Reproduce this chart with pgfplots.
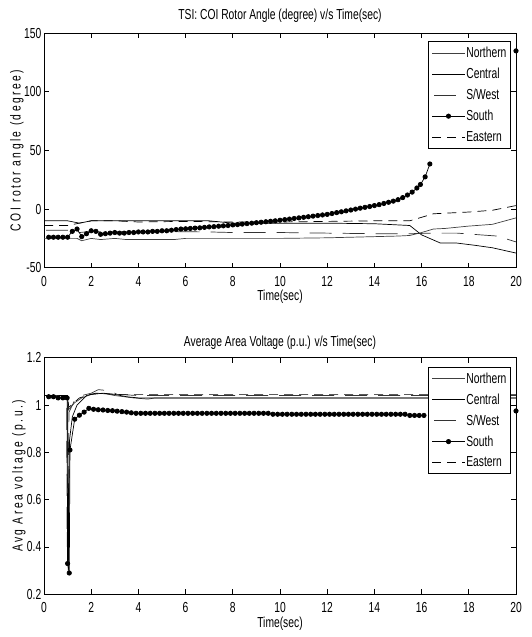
\documentclass[border=0pt]{standalone}
\usepackage{fontspec}
\setmainfont{Liberation Sans}[FakeStretch=0.71]
\usepackage{pgfplots}
\pgfplotsset{compat=1.18}

\newcommand\figfont{\fontsize{14.5bp}{16bp}\selectfont}

\pgfplotsset{
  every axis title shift=0pt,
  matlab/.style={
    scale only axis, width=472bp,
    xmin=0, xmax=20, xtick={0,2,...,20},
    tick align=inside, xtick pos=both, ytick pos=both,
    major tick length=5bp,
    every tick/.style={black, line width=0.8bp},
    axis line style={line width=1bp},
    /pgf/number format/assume math mode=true,
    tick label style={font=\figfont},
    xticklabel style={anchor=base, inner sep=0pt, yshift=-18.5bp},
    yticklabel style={anchor=east, inner sep=0pt, xshift=-2.5bp},
    title style={font=\figfont, anchor=base},
    xlabel style={font=\figfont, anchor=base},
    ylabel style={font=\figfont\addfontfeatures{LetterSpace=17}, anchor=base},
    legend cell align=left,
    legend style={anchor=north east, draw=black, line width=0.8bp, fill=white,
      font=\figfont, row sep=7bp, inner xsep=3bp, inner ysep=4.5bp,
      nodes={inner sep=1bp}},
    legend image code/.code={\draw[mark repeat=2,mark phase=2,#1]
      plot coordinates {(0bp,0bp) (16.5bp,0bp) (33bp,0bp)};},
  },
  nline/.style={black!75, line width=0.7bp},
  cline/.style={black, line width=0.7bp},
  sline/.style={black!80, line width=0.7bp, dash pattern=on 22bp off 11bp, dash phase=31bp},
  souline/.style={black, line width=0.7bp, mark=*, mark size=2.2bp},
  eline/.style={black, line width=0.7bp, dash pattern=on 9bp off 6bp},
}

\begin{document}
\begin{tikzpicture}
\useasboundingbox (0,0) rectangle (532bp,637bp);

\begin{axis}[matlab, height=234.4bp,
  at={(44bp,369.3bp)}, anchor=south west,
  ymin=-50, ymax=150, ytick={-50,0,50,100,150},
  title={TSI: COI Rotor Angle (degree) v/s Time(sec)},
  title style={at={(0.5,1.0597)}},
  xlabel={Time(sec)}, xlabel style={at={(0.5,-0.1408)}},
  ylabel={COI rotor angle (degree)}, ylabel style={at={(-0.0494,0.5)}},
  legend style={at={(0.989,0.966)}},
]
\addplot[nline] coordinates {(0,-25) (1.4,-25) (1.6,-27) (2,-25) (2.4,-26) (3,-25) (3.5,-26) (5.5,-26) (6,-25) (10,-25) (12,-24.5) (14,-23.5) (15,-23) (15.5,-22.5) (16,-20) (16.5,-17) (17,-16.5) (18,-14.5) (19,-13) (20,-7.5)};
\addlegendentry{Northern}
\addplot[cline] coordinates {(0,-10) (1,-10) (1.5,-12) (2,-10) (4,-10) (7,-10) (8,-12) (10,-12) (12,-12) (14,-12.5) (15.5,-14) (16,-22) (16.8,-29) (17.5,-29) (18.3,-31) (19,-33) (20,-37.5)};
\addlegendentry{Central}
\addplot[sline] coordinates {(0,-18) (1,-18) (1.5,-20) (2,-19) (4,-19) (7,-19.5) (8,-20) (10,-20) (12,-20.5) (14,-21) (15.5,-21) (16.5,-20.5) (17.5,-20.5) (18.5,-22) (19.2,-23) (20,-28)};
\addlegendentry{S/West}
\addplot[souline] coordinates {(0.2,-24) (0.4,-24) (0.6,-24) (0.8,-24) (1.0,-24) (1.2,-19) (1.4,-17) (1.6,-23.5) (1.8,-21) (2.0,-18.5) (2.2,-19) (2.4,-21.5) (2.6,-21) (2.8,-20.5) (3.0,-20) (3.2,-20.5) (3.4,-20.5) (3.6,-20) (3.8,-20) (4.0,-19.5) (4.2,-19.5) (4.4,-19.5) (4.6,-19) (4.8,-19) (5.0,-18.5) (5.2,-18.5) (5.4,-18) (5.6,-17.5) (5.8,-17) (6.0,-16.8) (6.2,-16.5) (6.4,-16.2) (6.6,-16) (6.8,-15.6) (7.0,-15.2) (7.2,-15) (7.4,-14.6) (7.6,-14.3) (7.8,-14) (8.0,-13.5) (8.2,-13.2) (8.4,-12.8) (8.6,-12.4) (8.8,-12) (9.0,-11.6) (9.2,-11.2) (9.4,-10.8) (9.6,-10.4) (9.8,-10) (10.0,-9.5) (10.2,-9) (10.4,-8.5) (10.6,-8) (10.8,-7.5) (11.0,-7) (11.2,-6.5) (11.4,-6) (11.6,-5.5) (11.8,-5) (12.0,-4.5) (12.2,-3.8) (12.4,-3) (12.6,-2.3) (12.8,-1.5) (13.0,-0.8) (13.2,0) (13.4,0.8) (13.6,1.5) (13.8,2.2) (14.0,3) (14.2,3.8) (14.4,4.8) (14.6,5.8) (14.8,6.8) (15.0,8) (15.2,9.8) (15.4,12) (15.6,14.5) (15.8,18) (15.95,21) (16.15,27.5) (16.35,38.5)};
\addlegendentry{South}
\addplot[eline] coordinates {(0,-14) (1,-14) (1.5,-12) (2,-10) (3,-10) (4,-11) (6,-10.5) (8,-11) (10,-11) (12,-10.5) (14,-10) (15.5,-10) (16,-7) (16.5,-4) (17,-3.5) (18,-2.5) (19,-1) (20,3)};
\addlegendentry{Eastern}
\addplot[souline, only marks, forget plot] coordinates {(20,135)};
\end{axis}

\begin{axis}[matlab, height=236.6bp,
  at={(44bp,42.7bp)}, anchor=south west,
  ymin=0.2, ymax=1.2, ytick={0.2,0.4,0.6,0.8,1,1.2},
  title={Average Area Voltage (p.u.) v/s Time(sec)},
  title style={at={(0.5,1.0494)}},
  xlabel={Time(sec)}, xlabel style={at={(0.5,-0.1395)}},
  ylabel={Avg Area voltage (p.u.)}, ylabel style={at={(-0.0451,0.5)}},
  legend style={at={(0.989,0.962)}},
]
\addplot[nline] coordinates {(0,1.04) (1.0,1.04) (1.04,0.98) (1.3,1.01) (1.6,1.03) (2,1.045) (2.5,1.05) (3,1.04) (3.8,1.03) (4.4,1.025) (4.7,1.03) (20,1.03)};
\addlegendentry{Northern}
\addplot[cline] coordinates {(0,1.04) (1.0,1.04) (1.03,0.30) (1.08,0.85) (1.2,0.95) (1.4,1.0) (1.8,1.04) (2.2,1.05) (3,1.045) (3.5,1.035) (4,1.03) (20,1.03)};
\addlegendentry{Central}
\addplot[sline] coordinates {(0,1.04) (0.96,1.04) (0.98,0.40) (1.06,0.97) (1.3,1.02) (1.6,1.04) (2,1.05) (2.3,1.065) (2.8,1.06) (3.1,1.045) (4,1.04) (20,1.04)};
\addlegendentry{S/West}
\addplot[souline] coordinates {(0.2,1.035) (0.4,1.035) (0.6,1.03) (0.8,1.03) (0.98,1.03) (1.0,0.33) (1.07,0.29) (1.1,0.81) (1.3,0.94) (1.5,0.957) (1.7,0.97) (1.9,0.986) (2.1,0.982) (2.3,0.98) (2.5,0.979) (2.7,0.977) (2.9,0.976) (3.1,0.974) (3.3,0.972) (3.5,0.97) (3.7,0.967) (3.9,0.965) (4.1,0.965) (4.3,0.965) (4.5,0.965) (4.7,0.965) (4.9,0.965) (5.1,0.965) (5.3,0.965) (5.5,0.965) (5.7,0.965) (5.9,0.965) (6.1,0.965) (6.3,0.965) (6.5,0.965) (6.7,0.965) (6.9,0.965) (7.1,0.965) (7.3,0.965) (7.5,0.965) (7.7,0.965) (7.9,0.965) (8.1,0.965) (8.3,0.965) (8.5,0.965) (8.7,0.965) (8.9,0.965) (9.1,0.965) (9.3,0.965) (9.5,0.965) (9.7,0.961) (9.9,0.961) (10.1,0.961) (10.3,0.961) (10.5,0.961) (10.7,0.961) (10.9,0.961) (11.1,0.961) (11.3,0.961) (11.5,0.961) (11.7,0.961) (11.9,0.961) (12.1,0.961) (12.3,0.961) (12.5,0.961) (12.7,0.961) (12.9,0.961) (13.1,0.961) (13.3,0.961) (13.5,0.961) (13.7,0.961) (13.9,0.961) (14.1,0.961) (14.3,0.961) (14.5,0.961) (14.7,0.961) (14.9,0.961) (15.1,0.961) (15.3,0.961) (15.5,0.956) (15.7,0.956) (15.9,0.956) (16.1,0.956)};
\addlegendentry{South}
\addplot[eline] coordinates {(0,1.04) (1.0,1.04) (1.05,0.99) (1.5,1.03) (2,1.045) (2.5,1.05) (3,1.045) (4,1.045) (20,1.045)};
\addlegendentry{Eastern}
\addplot[souline, only marks, forget plot] coordinates {(20,0.975)};
\end{axis}
\end{tikzpicture}
\end{document}
